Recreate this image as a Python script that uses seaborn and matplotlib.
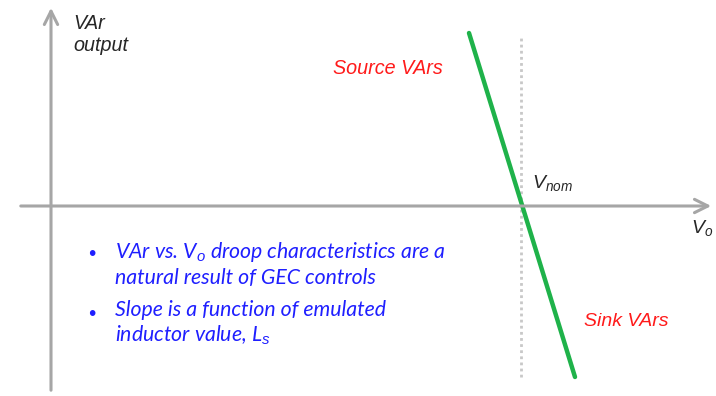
import matplotlib
matplotlib.use("Agg")
import matplotlib.pyplot as plt
import seaborn as sns
import pandas as pd

# ---- data (diagram coordinates: origin at axes crossing) ----
droop_vo = [418, 524]        # voltage coordinate of droop line ends
droop_var = [173, -171]      # VAr output at those ends
v_nom = [470]                # nominal voltage (dotted reference)
labels_axes = ["VAr\noutput", "$V_o$", "$V_{nom}$"]
label_source = "Source VArs"
label_sink = "Sink VArs"
bullets = ["VAr vs. V$_o$ droop characteristics are a\nnatural result of GEC controls",
           "Slope is a function of emulated\ninductor value, L$_s$"]

sns.set_theme(style="white")
plt.rcParams["font.family"] = ["Liberation Sans", "DejaVu Sans"]
plt.rcParams["mathtext.fontset"] = "custom"
plt.rcParams["mathtext.rm"] = "Liberation Sans:italic"
plt.rcParams["mathtext.it"] = "Liberation Sans:italic"

fig = plt.figure(figsize=(7.16, 3.96), dpi=100)
ax = fig.add_axes([0, 0, 1, 1])
ax.set_xlim(-51, 665)
ax.set_ylim(-190, 206)
ax.axis("off")

grey = "#a6a6a6"
# axes with arrows
ax.annotate("", xy=(0, 201), xytext=(0, -187),
            arrowprops=dict(arrowstyle="->,head_length=0.8,head_width=0.4", color=grey, lw=2.2))
ax.annotate("", xy=(663, 0), xytext=(-33, 0),
            arrowprops=dict(arrowstyle="->,head_length=0.8,head_width=0.4", color=grey, lw=2.2))

# dotted nominal line
ax.vlines(v_nom, -171, 171, colors="#c8c8c8", linestyles=(0, (1, 1.2)), lw=2)

# droop line
df = pd.DataFrame({"Vo": droop_vo, "VAr": droop_var})
sns.lineplot(data=df, x="Vo", y="VAr", ax=ax, color="#1fb24a", lw=3.2,
             sort=False, estimator=None)
ax.set_xlabel(""); ax.set_ylabel("")

# axis labels
ax.text(22, 192, labels_axes[0], fontsize=14.2, style="italic", color="#262626",
        va="top", ha="left", linespacing=1.2)
ax.text(640, -22, labels_axes[1], fontsize=14, color="#262626", va="center", ha="left")
ax.text(481, 23, labels_axes[2], fontsize=14, color="#262626", va="center", ha="left")

# region labels
ax.text(282, 137, label_source, fontsize=14.2, style="italic", color="#ff1a1a",
        va="center", ha="left")
ax.text(533, -116, label_sink, fontsize=14, style="italic", color="#ff1a1a",
        va="center", ha="left")

# bullets
blue = "#1f1fff"
ys = [-47, -107]
for y, txt in zip(ys, bullets):
    ax.text(41, y - 2, "\u2022", fontsize=15, color=blue, va="center", ha="center")
    ax.text(64, y + 13, txt, fontsize=15.3, style="italic", color=blue,
            family=["Lato", "DejaVu Sans"], va="top", ha="left", linespacing=1.22)

fig.savefig("out.png", dpi=100)
